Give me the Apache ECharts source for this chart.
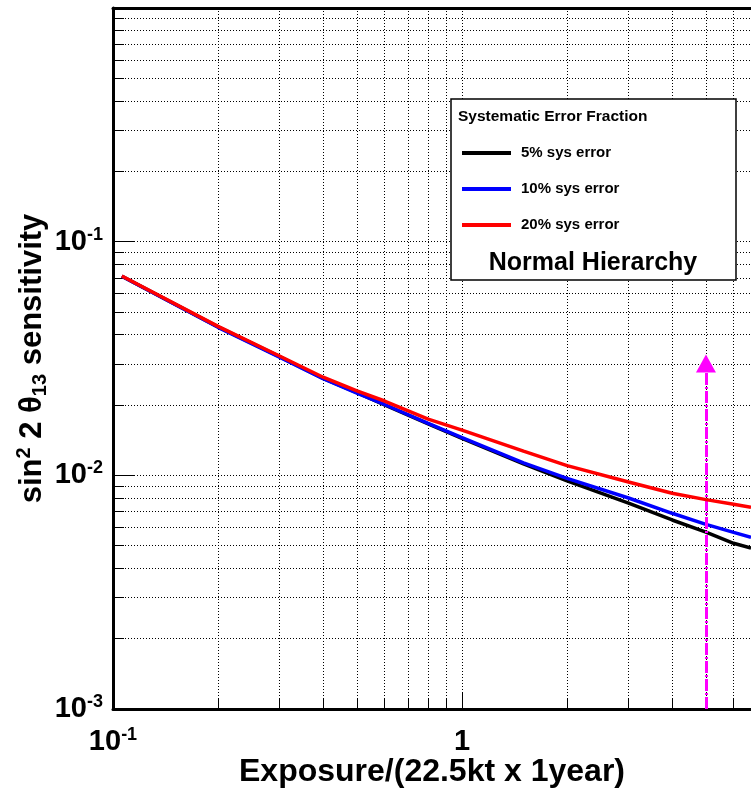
<!DOCTYPE html>
<html>
<head>
<meta charset="utf-8">
<script src="https://cdn.jsdelivr.net/npm/echarts@6/dist/echarts.min.js"></script>
<style>
html,body{margin:0;padding:0;background:#fff;}
#chart{width:751px;height:793px;}
</style>
</head>
<body>
<div id="chart"></div>
<script>
// ---- data ----
const exposure = [0.106, 0.2, 0.3, 0.4, 0.5, 0.6, 0.8, 1, 1.5, 2, 3, 4, 5, 6, 6.73];
const sys5  = [0.0711, 0.0432, 0.0322, 0.0260, 0.0226, 0.0200, 0.0166, 0.0144, 0.0112, 0.00946, 0.00761, 0.00644, 0.00571, 0.00512, 0.00488];
const sys10 = [0.0711, 0.0430, 0.0320, 0.0259, 0.0225, 0.0201, 0.0167, 0.0145, 0.0113, 0.00971, 0.0080, 0.00688, 0.00617, 0.0057, 0.00543];
const sys20 = [0.0713, 0.0434, 0.0324, 0.0263, 0.0230, 0.0208, 0.0174, 0.0156, 0.0127, 0.0110, 0.00937, 0.00838, 0.00787, 0.00752, 0.0073];
const seriesNames = ['5% sys error', '10% sys error', '20% sys error'];
const seriesColors = ['#000000', '#0000ff', '#ff0000'];

const arrowX = 5;
const arrowFrom = 0.001;
const arrowTo = 0.0301;

const xMin = 0.1, xMax = 6.73;
const yMin = 0.001, yMax = 1;
const xGrid = [0.2, 0.3, 0.4, 0.5, 0.6, 0.7, 0.8, 0.9, 1, 2, 3, 4, 5, 6];
const xMajor = [0.1, 1];
const xMajorLabels = [['10', '-1'], ['1', '']];
const yGrid = [0.002, 0.003, 0.004, 0.005, 0.006, 0.007, 0.008, 0.009, 0.01,
               0.02, 0.03, 0.04, 0.05, 0.06, 0.07, 0.08, 0.09, 0.1,
               0.2, 0.3, 0.4, 0.5, 0.6, 0.7, 0.8, 0.9];
const yMajor = [0.001, 0.01, 0.1, 1];
const yMajorLabels = [['10', '-3'], ['10', '-2'], ['10', '-1'], ['', '']];

const FONT = 'Liberation Sans';

function labelFor(majors, labels) {
  return function (v) {
    let best = -1, bd = Infinity;
    majors.forEach((m, i) => { const d = Math.abs(Math.log10(v) - Math.log10(m)); if (d < bd) { bd = d; best = i; } });
    if (best < 0 || bd > 1e-6) return '';
    const l = labels[best];
    if (!l[0]) return '';
    return '{b|' + l[0] + '}' + (l[1] ? '{s|' + l[1] + '}' : '');
  };
}
const tickRich = {
  b: { fontFamily: FONT, fontWeight: 'bold', fontSize: 29, color: '#000', lineHeight: 32 },
  s: { fontFamily: FONT, fontWeight: 'bold', fontSize: 18, color: '#000', lineHeight: 18, verticalAlign: 'top' }
};
const dotted = { color: '#000', width: 1, type: [1, 2] };

const series = [sys5, sys10, sys20].map((vals, i) => ({
  name: seriesNames[i],
  type: 'line',
  xAxisIndex: 0,
  yAxisIndex: 0,
  data: exposure.map((x, j) => [x, vals[j]]),
  symbol: 'none',
  smooth: false,
  lineStyle: { color: seriesColors[i], width: 3.5 },
  itemStyle: { color: seriesColors[i] },
  z: 3 + i
}));
series.push({
  name: 'arrow',
  type: 'line',
  xAxisIndex: 0,
  yAxisIndex: 0,
  data: [],
  symbol: 'none',
  z: 6,
  markLine: {
    silent: true,
    animation: false,
    symbol: ['none', 'triangle'],
    symbolSize: [20, 18],
    label: { show: false },
    lineStyle: { color: '#ff00ff', width: 3, type: [12, 2, 2, 2] },
    itemStyle: { color: '#ff00ff' },
    emphasis: { disabled: true },
    data: [[{ coord: [arrowX, arrowFrom] }, { coord: [arrowX, arrowTo] }]]
  }
});

const option = {
  animation: false,
  backgroundColor: '#fff',
  grid: { left: 113, top: 8, right: 0, bottom: 82, containLabel: false },
  xAxis: [
    {
      type: 'log', logBase: 10, min: xMin, max: xMax, position: 'bottom',
      axisLine: { show: true, onZero: false, lineStyle: { color: '#000', width: 3 } },
      axisTick: { show: true, inside: true, length: 10, customValues: xGrid, lineStyle: { color: '#000', width: 1 } },
      splitLine: { show: true, lineStyle: dotted },
      axisLabel: { show: false },
      name: 'Exposure/(22.5kt x 1year)',
      nameLocation: 'middle',
      nameGap: 47,
      nameTextStyle: { fontFamily: FONT, fontWeight: 'bold', fontSize: 32, color: '#000' }
    },
    {
      type: 'log', logBase: 10, min: xMin, max: xMax, position: 'bottom',
      axisLine: { show: false },
      axisTick: { show: true, inside: true, length: 17, customValues: xMajor, lineStyle: { color: '#000', width: 1 } },
      splitLine: { show: false },
      axisLabel: { show: true, margin: 17, customValues: xMajor, formatter: labelFor(xMajor, xMajorLabels), rich: tickRich }
    },
    {
      type: 'log', logBase: 10, min: xMin, max: xMax, position: 'top',
      axisLine: { show: true, onZero: false, lineStyle: { color: '#000', width: 3 } },
      axisTick: { show: false }, splitLine: { show: false }, axisLabel: { show: false }
    }
  ],
  yAxis: [
    {
      type: 'log', logBase: 10, min: yMin, max: yMax, position: 'left',
      axisLine: { show: true, onZero: false, lineStyle: { color: '#000', width: 3 } },
      axisTick: { show: true, inside: true, length: 11, customValues: yGrid, lineStyle: { color: '#000', width: 1 } },
      splitLine: { show: true, lineStyle: dotted },
      axisLabel: { show: false },
      name: 'sin{sup|2} 2 θ{sub|13} sensitivity',
      nameLocation: 'middle',
      nameRotate: 90,
      nameGap: 63,
      nameTextStyle: {
        fontFamily: FONT, fontWeight: 'bold', fontSize: 31, color: '#000', lineHeight: 36,
        rich: {
          sup: { fontFamily: FONT, fontWeight: 'bold', fontSize: 20, color: '#000', verticalAlign: 'top', lineHeight: 20 },
          sub: { fontFamily: FONT, fontWeight: 'bold', fontSize: 20, color: '#000', verticalAlign: 'bottom', lineHeight: 20 }
        }
      }
    },
    {
      type: 'log', logBase: 10, min: yMin, max: yMax, position: 'left', offset: 0,
      axisLine: { show: false },
      axisTick: { show: true, inside: true, length: 22, customValues: yMajor, lineStyle: { color: '#000', width: 1 } },
      splitLine: { show: false },
      axisLabel: { show: true, margin: 10, customValues: yMajor, formatter: labelFor(yMajor, yMajorLabels), rich: tickRich }
    }
  ],
  legend: {
    show: true,
    data: seriesNames,
    orient: 'vertical',
    left: 462,
    top: 145,
    padding: 0,
    icon: 'rect',
    itemWidth: 49,
    itemHeight: 4,
    itemGap: 20,
    z: 101,
    selectedMode: false,
    textStyle: { fontFamily: FONT, fontWeight: 'bold', fontSize: 15, color: '#000', lineHeight: 16, padding: [0, 0, 0, 5] }
  },
  graphic: {
    elements: [
      {
        type: 'rect', z: 100, silent: true,
        shape: { x: 451, y: 99, width: 285, height: 181 },
        style: { fill: '#fff', stroke: '#000', lineWidth: 1.5 }
      },
      {
        type: 'text', z: 101, silent: true, left: 458, top: 109,
        style: { text: 'Systematic Error Fraction', fontFamily: FONT, fontWeight: 'bold', fontSize: 15.5, fill: '#000' }
      },
      {
        type: 'text', z: 101, silent: true,
        style: { x: 593, y: 263, text: 'Normal Hierarchy', fontFamily: FONT, fontWeight: 'bold', fontSize: 25, fill: '#000', align: 'center', verticalAlign: 'middle' }
      }
    ]
  },
  series: series
};

const chart = echarts.init(document.getElementById('chart'), null, { renderer: 'canvas' });
chart.setOption(option);
</script>
</body>
</html>
